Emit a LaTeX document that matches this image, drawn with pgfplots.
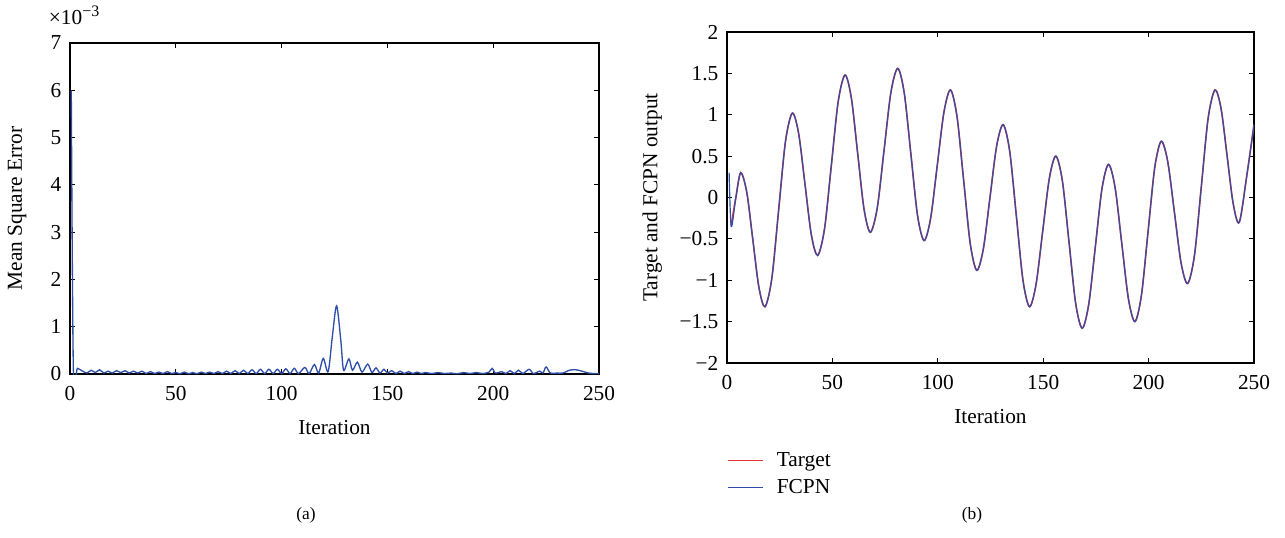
\documentclass[border=0pt]{standalone}
\usepackage{pgfplots}
\usepackage{pgfplotstable}
\pgfplotsset{compat=1.18}
\usepackage{fontspec}
\setmainfont{Liberation Serif}
\definecolor{blueline}{RGB}{46,78,168}
\definecolor{redline}{RGB}{228,50,50}

\pgfplotstableread{
x y
0.6 6.0
1.6 0.08
3.5 0.12
6 0.06
8 0.02
10 0.08
12 0.03
14 0.09
16 0.02
18 0.06
20 0.02
22 0.07
24 0.03
26 0.07
28 0.02
30 0.06
32 0.02
34 0.06
36 0.01
38 0.05
40 0.01
42 0.04
44 0.01
46 0.05
48 0.01
50 0.03
52 0.005
54 0.04
56 0.005
58 0.03
60 0.005
62 0.04
64 0.01
66 0.04
68 0.01
70 0.05
72 0.01
74 0.06
76 0.01
78 0.07
80 0.01
82 0.08
84 0.01
86 0.09
88 0.01
90 0.10
92 0.01
94 0.10
96 0.01
98 0.10
100 0.01
102 0.11
104 0.01
106 0.12
108 0.01
111 0.14
113 0.01
115.5 0.20
117.5 0.02
119.7 0.33
122 0.05
124 0.80
126 1.44
128 0.70
129.3 0.08
131.8 0.32
133.5 0.08
135.8 0.25
138 0.04
140.7 0.21
142.7 0.03
144.6 0.13
146.5 0.02
148.4 0.10
150 0.02
152 0.07
154 0.01
156 0.06
158 0.01
160 0.05
162 0.01
164 0.04
166 0.01
168 0.03
171 0.01
174 0.03
177 0.01
180 0.02
183 0.005
186 0.03
189 0.01
192 0.03
195 0.01
198 0.04
199.5 0.12
201 0.02
204 0.05
206 0.01
208 0.07
210 0.01
212 0.08
214 0.01
217 0.10
219 0.01
222 0.06
223.5 0.02
225 0.15
227 0.02
230 0.02
233 0.02
236 0.08
239 0.09
242 0.06
245 0.02
248 0.01
250 0.01
}\msedata

\pgfplotstableread{
x y
1 0.30
2 -0.35
4.2 0.00
6.5 0.30
9.4 0.06
12.25 -0.51
15.1 -1.08
18 -1.32
21.25 -0.98
24.5 -0.15
27.75 0.68
31 1.02
34 0.77
37 0.16
40 -0.45
43 -0.70
46.25 -0.38
49.5 0.39
52.75 1.16
56 1.48
59 1.20
62 0.53
65 -0.14
68 -0.42
71.25 -0.13
74.5 0.57
77.75 1.27
81 1.56
84.1 1.26
87.25 0.52
90.4 -0.22
93.5 -0.52
96.6 -0.25
99.75 0.39
102.9 1.03
106 1.30
109.1 0.98
112.25 0.21
115.4 -0.56
118.5 -0.88
121.6 -0.62
124.75 0.00
127.9 0.62
131 0.88
134.1 0.56
137.25 -0.22
140.4 -1.00
143.5 -1.32
146.6 -1.05
149.75 -0.41
152.9 0.23
156 0.50
159.1 0.20
162.25 -0.54
165.4 -1.28
168.5 -1.58
171.6 -1.29
174.75 -0.59
177.9 0.11
181 0.40
184.1 0.12
187.25 -0.55
190.4 -1.22
193.5 -1.50
196.6 -1.18
199.75 -0.41
202.9 0.36
206 0.68
209.1 0.43
212.25 -0.18
215.4 -0.79
218.5 -1.04
221.75 -0.70
225 0.13
228.25 0.96
231.5 1.30
234.4 1.07
237.25 0.50
240.1 -0.07
243 -0.30
246.5 0.25
250 0.88
}\fcpndata

\pgfplotstableread{
x y
2 -0.33
4.2 0.00
6.5 0.30
9.4 0.06
12.25 -0.51
15.1 -1.08
18 -1.32
21.25 -0.98
24.5 -0.15
27.75 0.68
31 1.02
34 0.77
37 0.16
40 -0.45
43 -0.70
46.25 -0.38
49.5 0.39
52.75 1.16
56 1.48
59 1.20
62 0.53
65 -0.14
68 -0.42
71.25 -0.13
74.5 0.57
77.75 1.27
81 1.56
84.1 1.26
87.25 0.52
90.4 -0.22
93.5 -0.52
96.6 -0.25
99.75 0.39
102.9 1.03
106 1.30
109.1 0.98
112.25 0.21
115.4 -0.56
118.5 -0.88
121.6 -0.62
124.75 0.00
127.9 0.62
131 0.88
134.1 0.56
137.25 -0.22
140.4 -1.00
143.5 -1.32
146.6 -1.05
149.75 -0.41
152.9 0.23
156 0.50
159.1 0.20
162.25 -0.54
165.4 -1.28
168.5 -1.58
171.6 -1.29
174.75 -0.59
177.9 0.11
181 0.40
184.1 0.12
187.25 -0.55
190.4 -1.22
193.5 -1.50
196.6 -1.18
199.75 -0.41
202.9 0.36
206 0.68
209.1 0.43
212.25 -0.18
215.4 -0.79
218.5 -1.04
221.75 -0.70
225 0.13
228.25 0.96
231.5 1.30
234.4 1.07
237.25 0.50
240.1 -0.07
243 -0.30
246.5 0.25
250 0.88
}\targetdata

\pgfplotsset{
  common/.style={
    scale only axis,
    anchor=south west,
    xmin=0, xmax=250,
    xtick={0,50,100,150,200,250},
    tick align=inside,
    major tick length=4pt,
    axis line style={black, line width=0.8pt},
    every tick/.style={black, line width=0.6pt},
    /pgf/number format/assume math mode=true,
    tick label style={font=\fontsize{16}{19}\selectfont},
    label style={font=\fontsize{16}{19}\selectfont},
    xticklabel style={yshift=-6pt},
    yticklabel style={xshift=-3pt},
  }
}

\begin{document}
\begin{tikzpicture}
\path[use as bounding box] (0,0) rectangle (963.75pt,402.75pt);

% (a)
\begin{axis}[common,
  at={(52.5pt,122.25pt)},
  width=396.75pt, height=248.25pt,
  ymin=0, ymax=7,
  ytick={0,1,2,3,4,5,6,7},
  xlabel={Iteration},
  ylabel={Mean Square Error},
  xlabel style={at={(axis description cs:0.5,-0.163)}, anchor=center},
  ylabel style={at={(axis description cs:-0.1,0.5)}, anchor=center},
]
\addplot[blueline, line width=1pt, smooth, tension=0.5] table[x=x,y=y] {\msedata};
\end{axis}
\node[anchor=west, font=\fontsize{16}{19}\selectfont, inner sep=0pt]
  at (36.5pt,391pt) {×10\raisebox{0.8ex}{\fontsize{12}{13}\selectfont −3}};

% (b)
\begin{axis}[common,
  at={(545.25pt,130.5pt)},
  width=395.25pt, height=248.25pt,
  ymin=-2, ymax=2,
  ytick={-2,-1.5,-1,-0.5,0,0.5,1,1.5,2},
  yticklabels={−2,−1.5,−1,−0.5,0,0.5,1,1.5,2},
  xlabel={Iteration},
  ylabel={Target and FCPN output},
  xlabel style={at={(axis description cs:0.5,-0.163)}, anchor=center},
  ylabel style={at={(axis description cs:-0.142,0.5)}, anchor=center},
  legend style={at={(axis description cs:0,-0.262)}, anchor=north west,
    draw=none, fill=none, font=\fontsize{16}{19}\selectfont,
    row sep=4pt, inner sep=0pt,
    nodes={inner sep=2pt},
    /tikz/every odd column/.append style={column sep=8pt}},
  legend cell align=left,
  legend image code/.code={\draw[#1, line width=1.2pt] (0pt,0pt) -- (26pt,0pt);},
]
\addplot[redline, line width=1.2pt, smooth, tension=0.5] table[x=x,y=y] {\targetdata};
\addlegendentry{Target}
\addplot[blueline, line width=0.9pt, smooth, tension=0.5] table[x=x,y=y] {\fcpndata};
\addlegendentry{FCPN}
\end{axis}

\node[font=\fontsize{13}{15}\selectfont] at (229.5pt,16.5pt) {(a)};
\node[font=\fontsize{13}{15}\selectfont] at (729pt,16.5pt) {(b)};
\end{tikzpicture}
\end{document}
